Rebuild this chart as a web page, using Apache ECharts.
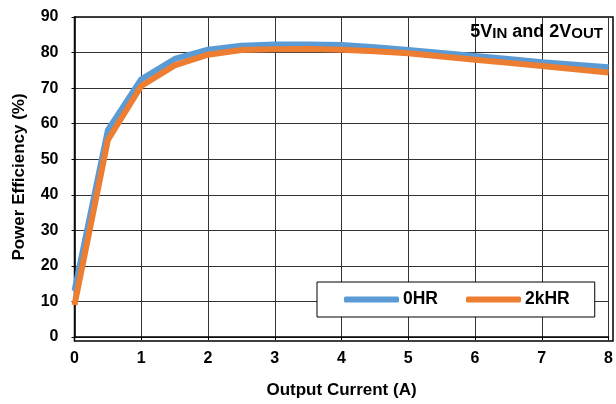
<!DOCTYPE html>
<html>
<head>
<meta charset="utf-8">
<script src="https://cdn.jsdelivr.net/npm/echarts@6/dist/echarts.min.js"></script>
<style>
  html, body { margin: 0; padding: 0; background: #fff; }
  #chart { width: 616px; height: 404px; }
</style>
</head>
<body>
<div id="chart"></div>
<script>
const current = [0, 0.5, 1, 1.5, 2, 2.5, 3, 3.5, 4, 4.5, 5, 5.5, 6, 6.5, 7, 7.5, 8];
const eff0hr = [13, 58.2, 72.5, 78.2, 80.8, 81.9, 82.3, 82.3, 82.1, 81.5, 80.7, 79.9, 79.0, 78.2, 77.3, 76.6, 75.9];
const eff2khr = [9, 55.4, 70.6, 76.4, 79.4, 80.7, 80.9, 81.0, 80.8, 80.4, 79.8, 78.9, 78.0, 77.1, 76.2, 75.3, 74.4];
const seriesNames = ['0HR', '2kHR'];
const colors = ['#5B9BD5', '#ED7D31'];

const font = 'Liberation Sans, Arial, sans-serif';
const chart = echarts.init(document.getElementById('chart'));

const toPairs = (ys) => current.map((x, i) => [x, ys[i]]);

chart.setOption({
  animation: false,
  color: colors,
  grid: { left: 74.5, right: 3, top: 17, bottom: 63, containLabel: false },
  legend: {
    left: 317, top: 282,
    padding: [8, 25, 8, 27],
    itemGap: 28,
    itemWidth: 55, itemHeight: 6,
    backgroundColor: '#fff',
    borderColor: '#000', borderWidth: 1,
    icon: 'roundRect',
    textStyle: { fontFamily: font, fontWeight: 'bold', fontSize: 17.5, color: '#000', lineHeight: 19, padding: [0, 0, 0, -1] },
    data: seriesNames
  },
  xAxis: {
    type: 'value', min: 0, max: 8, interval: 1,
    name: 'Output Current (A)', nameLocation: 'middle', nameGap: 45,
    nameTextStyle: { fontFamily: font, fontWeight: 'bold', fontSize: 17, color: '#000' },
    axisLine: { show: true, lineStyle: { color: '#000', width: 1.5 } },
    axisTick: { show: true, length: 3, lineStyle: { color: '#000' } },
    axisLabel: { fontFamily: font, fontWeight: 'bold', fontSize: 16, color: '#000', margin: 14 },
    splitLine: { show: true, lineStyle: { color: '#333', width: 1 } }
  },
  yAxis: {
    type: 'value', min: 0, max: 90, interval: 10,
    name: 'Power Efficiency (%)', nameLocation: 'middle', nameGap: 47,
    nameTextStyle: { fontFamily: font, fontWeight: 'bold', fontSize: 17, color: '#000' },
    axisLine: { show: true, lineStyle: { color: '#000', width: 1.5 } },
    axisTick: { show: true, length: 3, lineStyle: { color: '#000' } },
    axisLabel: { fontFamily: font, fontWeight: 'bold', fontSize: 16, color: '#000', margin: 16 },
    splitLine: { show: true, lineStyle: { color: '#333', width: 1 } }
  },
  graphic: [
    {
      type: 'rect', z: 0, silent: true,
      shape: { x: 74.5, y: 17, width: 538.5, height: 324 },
      style: { fill: 'none', stroke: '#000', lineWidth: 1.5 }
    },
    {
      type: 'text', right: 13, top: 19, z: 10,
      style: {
        text: '{b|5V}{s|IN}{b| and 2V}{s|OUT}',
        rich: {
          b: { fontFamily: font, fontWeight: 'bold', fontSize: 18, fill: '#000', verticalAlign: 'bottom', lineHeight: 22 },
          s: { fontFamily: font, fontWeight: 'bold', fontSize: 15, fill: '#000', verticalAlign: 'bottom', lineHeight: 16, padding: [7, 0, 0, 0] }
        }
      }
    }
  ],
  series: [
    {
      name: seriesNames[0], type: 'line', data: toPairs(eff0hr),
      showSymbol: false, lineStyle: { width: 6, color: colors[0] }, z: 2
    },
    {
      name: seriesNames[1], type: 'line', data: toPairs(eff2khr),
      showSymbol: false, lineStyle: { width: 6, color: colors[1] }, z: 3
    }
  ]
});
</script>
</body>
</html>
